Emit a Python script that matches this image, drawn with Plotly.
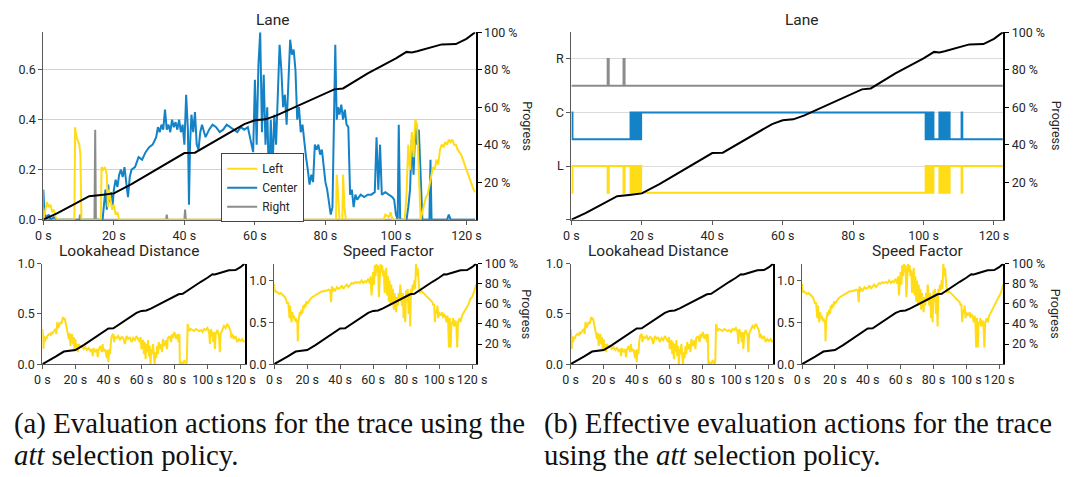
import plotly.graph_objects as go

# ---------------- data ----------------
# progress of the trace (percent) over time (s)
prog_t = [0, 4, 8, 13, 17, 20, 25, 30, 35, 40, 43, 47, 52, 57, 60, 63, 66, 70, 75, 80,
          82.5, 85, 88, 92, 96, 100, 103, 104.5, 106, 110, 113, 117, 120, 122.5]
prog_v = [0, 3.5, 7.5, 12.5, 13.3, 14, 19, 24.5, 30, 35.5, 35.7, 40, 45.5, 51, 53, 53.5,
          55.5, 59, 63, 67.5, 69.5, 70, 73.5, 78, 82, 86, 89.5, 89.2, 89.8, 92, 93.5, 93.7,
          96.5, 100]

# lane evaluation values
left_t = [0, 0.5, 1, 1.5, 2, 2.5, 3, 3.5, 4, 8.8, 9, 9.4, 9.8, 10.2, 10.5, 10.8, 16.3, 16.5,
          17, 17.5, 18, 18.3, 18.6, 19, 19.5, 20, 20.5, 21, 21.5, 83, 83.2, 83.6, 84, 84.8, 85,
          85.4, 85.8, 96.5, 97, 98, 98.5, 99, 102.5, 103, 103.5, 104, 104.5, 105, 105.5, 106,
          106.5, 107, 107.5, 108, 108.5, 109, 109.5, 110, 110.5, 111, 111.5, 112, 112.5, 113,
          113.5, 114, 114.5, 115, 115.5, 116, 116.5, 117, 117.5, 118, 118.5, 119, 119.5, 120,
          120.5, 121, 121.5, 122, 122.5]
left_v = [0, 0.03, 0.07, 0.05, 0.06, 0.03, 0.04, 0.01, 0, 0, 0.37, 0.33, 0.31, 0.3, 0.26, 0,
          0, 0.21, 0.2, 0.21, 0.18, 0.05, 0.12, 0.08, 0.04, 0.06, 0.02, 0.03, 0, 0, 0.18, 0.1,
          0, 0, 0.18, 0.05, 0, 0, 0.02, 0.01, 0.03, 0, 0, 0.1, 0.3, 0.2, 0.35, 0.25, 0.4, 0.38,
          0.2, 0, 0.03, 0.06, 0.09, 0.1, 0.14, 0.18, 0.21, 0.2, 0.24, 0.22, 0.28, 0.3, 0.29,
          0.31, 0.3, 0.32, 0.31, 0.32, 0.3, 0.3, 0.28, 0.27, 0.26, 0.24, 0.22, 0.2, 0.18, 0.16,
          0.14, 0.12, 0.11]

center_t = [0, 0.3, 1, 1.5, 2, 3, 4, 16.8, 17.2, 17.6, 18, 18.4, 18.8, 19.2, 19.6, 20, 20.5,
            21, 21.5, 22, 22.5, 23, 23.5, 24, 24.5, 25, 26, 27, 28, 29, 30, 31, 32, 32.5, 33,
            33.5, 34, 34.5, 35, 35.5, 36, 36.5, 37, 37.5, 38, 38.5, 39, 39.5, 40, 40.5, 41,
            41.3, 41.6, 42, 42.5, 43, 43.5, 44, 44.5, 45, 46, 47, 48, 49, 50, 51, 52, 53, 54,
            55, 56, 57, 58, 59, 59.5, 60, 60.5, 61, 61.5, 62, 62.5, 63, 63.5, 64, 64.5, 65,
            65.5, 66, 66.5, 67, 67.5, 68, 68.5, 69, 69.5, 70, 70.5, 71, 71.5, 72, 72.5, 73,
            73.5, 74, 74.5, 75, 75.5, 76, 76.5, 77, 77.5, 78, 78.5, 79, 79.5, 80, 80.5, 81,
            81.5, 82, 82.5, 82.8, 83.2, 83.6, 84, 84.5, 85, 85.5, 86, 86.5, 87, 87.5, 88, 88.5,
            89, 90, 91, 92, 93, 94, 94.5, 95, 95.5, 96, 97, 98, 99, 99.5, 100, 100.5, 100.8,
            101.2, 103, 103.5, 104, 104.5, 105, 105.5, 106, 106.5, 107, 107.5, 109.5, 109.8,
            110.1, 114.5, 115, 115.5, 122.5]
center_v = [0.12, 0.02, 0.01, 0.02, 0, 0.01, 0, 0, 0.06, 0.12, 0.04, 0.14, 0.07, 0.11, 0.05,
            0.12, 0.16, 0.13, 0.18, 0.2, 0.17, 0.21, 0.15, 0.09, 0.17, 0.2, 0.21, 0.25, 0.24,
            0.27, 0.29, 0.3, 0.33, 0.37, 0.35, 0.38, 0.36, 0.44, 0.36, 0.38, 0.35, 0.4, 0.37,
            0.39, 0.36, 0.4, 0.35, 0.38, 0.3, 0.5, 0.36, 0.06, 0.3, 0.42, 0.35, 0.43, 0.3, 0.28,
            0.35, 0.38, 0.33, 0.36, 0.38, 0.37, 0.35, 0.36, 0.38, 0.37, 0.36, 0.35, 0.37, 0.36,
            0.37, 0.3, 0.27, 0.56, 0.3, 0.62, 0.75, 0.35, 0.58, 0.3, 0.45, 0.12, 0.4, 0.2, 0.42,
            0.3, 0.5, 0.7, 0.6, 0.45, 0.5, 0.38, 0.55, 0.72, 0.66, 0.68, 0.6, 0.4, 0.45, 0.35,
            0.38, 0.3, 0.25, 0.2, 0.14, 0.18, 0.15, 0.3, 0.28, 0.3, 0.26, 0.28, 0.2, 0.15, 0.12,
            0.06, 0.02, 0.05, 0.58, 0.7, 0.4, 0.45, 0.42, 0.46, 0.4, 0.44, 0.38, 0.37, 0.1,
            0.12, 0.05, 0.1, 0.08, 0.1, 0.09, 0.1, 0.1, 0.11, 0.33, 0.12, 0.3, 0.1, 0.11, 0.1,
            0.09, 0.08, 0.02, 0, 0.38, 0, 0, 0.05, 0.12, 0.32, 0.18, 0.38, 0.3, 0.36, 0.15, 0,
            0, 0.24, 0, 0, 0.02, 0, 0]

right_t = [0, 0.3, 0.6, 10.2, 10.4, 10.6, 14.5, 14.7, 14.9, 34.8, 35, 35.2, 40, 40.2, 40.4, 122.5]
right_v = [0, 0.02, 0, 0, 0.02, 0, 0, 0.36, 0, 0, 0.02, 0, 0, 0.04, 0, 0]

# effective lane selection: switch times and the lane chosen from then on
sel_t = [0, 0.3, 10.3, 10.6, 14.8, 15.1, 16.8, 17.1, 17.3, 17.6, 17.8, 18.1, 18.3, 18.6,
         18.8, 19.1, 19.3, 19.6, 19.8, 100.6, 100.8, 101.0, 101.2, 101.4, 101.6, 101.8, 102.0,
         102.2, 102.5, 102.8, 104.5, 104.8, 105.3, 105.5, 105.8, 106.1, 106.6, 106.8, 107.2,
         107.4, 110.8, 111.0, 122.5]
sel_lane = ["C", "L", "R", "L", "R", "L", "C", "L", "C", "L", "C", "L", "C", "L", "C", "L",
            "C", "L", "C", "L", "C", "L", "C", "L", "C", "L", "C", "L", "C", "L", "C", "L",
            "C", "L", "C", "L", "C", "L", "C", "L", "C", "L", "L"]

# lookahead distance
look_t = [0, 0.3, 0.6, 1, 1.5, 2, 2.5, 3, 4, 5, 5.5, 6, 7, 8, 8.5, 9, 9.5, 10, 10.5, 11, 11.5,
          12, 12.5, 13, 13.5, 14, 14.5, 15, 15.5, 16, 16.5, 17, 17.5, 18, 18.5, 19, 19.5, 20,
          20.5, 21, 21.5, 22, 23, 24, 25, 26, 27, 28, 29, 30, 30.5, 31, 32, 33, 33.5, 34, 35,
          36, 36.5, 37, 38, 39, 39.5, 40, 40.5, 41, 41.5, 42, 43, 43.5, 44, 45, 46, 47, 48, 49,
          50, 51, 52, 53, 54, 55, 56, 57, 58, 59, 59.5, 60, 61, 61.5, 62, 62.5, 63, 63.5, 64,
          64.5, 65, 65.5, 66, 66.5, 67, 67.5, 68, 68.5, 69, 69.5, 70, 70.5, 71, 72, 72.5, 73,
          74, 75, 75.5, 76, 77, 78, 78.5, 79, 80, 81, 82, 82.5, 83, 83.3, 84, 85, 86, 87, 87.5,
          88, 88.5, 89, 90, 91, 92, 93, 94, 95, 96, 97, 98, 99, 100, 101, 101.5, 102, 103,
          103.5, 104, 104.5, 105, 106, 107, 107.5, 108, 109, 110, 111, 112, 113, 114, 114.5,
          115, 116, 117, 118, 119, 120, 121, 122, 122.5]
look_v = [0.35, 0.3, 0.15, 0.28, 0.22, 0.27, 0.25, 0.28, 0.3, 0.29, 0.32, 0.3, 0.33, 0.35,
          0.3, 0.42, 0.36, 0.38, 0.4, 0.42, 0.4, 0.45, 0.47, 0.44, 0.46, 0.42, 0.38, 0.36, 0.3,
          0.25, 0.31, 0.18, 0.28, 0.3, 0.2, 0.27, 0.13, 0.25, 0.15, 0.2, 0.12, 0.2, 0.17, 0.18,
          0.15, 0.17, 0.14, 0.16, 0.13, 0.15, 0.08, 0.16, 0.12, 0.15, 0.07, 0.14, 0.18, 0.12,
          0.2, 0.13, 0.15, 0.06, 0.14, 0.02, 0.15, 0.1, 0.22, 0.28, 0.3, 0.22, 0.27, 0.26,
          0.28, 0.24, 0.27, 0.26, 0.2, 0.28, 0.25, 0.27, 0.22, 0.26, 0.24, 0.28, 0.25, 0.22,
          0.27, 0.15, 0.24, 0.1, 0.22, 0.05, 0.2, 0.12, 0.24, 0.08, 0.18, 0, 0.15, 0.1, 0.2,
          0.02, 0, 0.12, 0.06, 0.18, 0.1, 0.22, 0.15, 0.2, 0.12, 0.25, 0.18, 0.24, 0.15, 0.26,
          0.28, 0.22, 0.3, 0.26, 0.32, 0.25, 0.3, 0.22, 0.3, 0, 0.02, 0, 0.04, 0, 0.02, 0.4,
          0.35, 0.33, 0.35, 0.34, 0.33, 0.35, 0.34, 0.33, 0.34, 0.32, 0.35, 0.34, 0.36, 0.32,
          0.2, 0.35, 0.3, 0.22, 0.32, 0.15, 0.3, 0.34, 0.28, 0.12, 0.3, 0.35, 0.38, 0.36, 0.4,
          0.37, 0.33, 0.26, 0.3, 0.25, 0.28, 0.22, 0.25, 0.23, 0.25, 0.22, 0.24]

# speed factor
speed_t = [0, 0.3, 1, 2, 3, 4, 5, 6, 6.5, 7, 7.5, 8, 8.5, 9, 9.3, 9.6, 10, 10.5, 11, 11.5, 12,
           12.5, 13, 13.5, 14, 14.3, 14.6, 15, 15.5, 16, 16.5, 17, 17.5, 18, 18.5, 19, 19.5,
           20, 21, 22, 23, 24, 25, 26, 27, 28, 29, 30, 31, 32, 33, 34, 34.5, 35, 35.5, 36, 37,
           38, 39, 40, 41, 42, 43, 44, 45, 46, 47, 48, 49, 50, 51, 52, 53, 54, 55, 56, 57, 58,
           58.5, 59, 59.5, 60, 60.5, 61, 61.5, 62, 62.5, 63, 63.5, 64, 64.5, 65, 65.5, 66, 66.5,
           67, 67.5, 68, 68.5, 69, 69.5, 70, 70.5, 71, 71.5, 72, 72.5, 73, 73.5, 74, 74.5, 75,
           75.5, 76, 76.5, 77, 77.5, 78, 78.5, 79, 79.5, 80, 80.5, 81, 81.5, 82, 82.5, 83, 83.5,
           84, 84.5, 85, 85.5, 86, 86.5, 87, 87.5, 88, 88.5, 89, 90, 91, 92, 93, 94, 95, 96,
           96.5, 97, 97.5, 98, 98.5, 99, 99.5, 100, 101, 102, 102.5, 103, 104, 104.5, 105,
           105.5, 106, 106.5, 107, 107.5, 108, 108.5, 109, 109.5, 110, 110.5, 111, 111.5, 112,
           112.5, 113, 113.5, 114, 114.5, 115, 116, 117, 118, 119, 120, 121, 122, 122.5]
speed_v = [0.96, 0.86, 0.87, 0.85, 0.84, 0.85, 0.83, 0.82, 0.8, 0.78, 0.75, 0.72, 0.74, 0.65,
           0.55, 0.7, 0.6, 0.5, 0.62, 0.55, 0.58, 0.52, 0.55, 0.5, 0.53, 0.27, 0.5, 0.56, 0.62,
           0.58, 0.65, 0.6, 0.7, 0.66, 0.72, 0.68, 0.75, 0.72, 0.76, 0.78, 0.8, 0.81, 0.83,
           0.84, 0.85, 0.86, 0.87, 0.87, 0.88, 0.88, 0.89, 0.88, 0.74, 0.93, 0.87, 0.9, 0.88,
           0.92, 0.9, 0.91, 0.94, 0.9, 0.93, 0.95, 0.92, 0.95, 0.97, 0.96, 0.98, 0.97, 0.98,
           0.97, 1.0, 0.97, 0.99, 0.98, 1.02, 0.96, 1.05, 0.82, 1.0, 1.1, 0.95, 1.18, 1.05, 1.2,
           1.1, 1.18, 0.8, 1.15, 1.2, 1.1, 1.18, 1.05, 1.12, 0.85, 1.1, 1.15, 0.82, 1.05, 0.75,
           1.0, 0.7, 0.95, 0.72, 0.9, 0.65, 0.85, 0.75, 0.62, 0.8, 0.7, 0.85, 0.75, 0.95, 0.8,
           0.7, 0.85, 0.55, 0.8, 0.5, 0.88, 0.75, 0.9, 0.6, 0.85, 0.45, 0.9, 0.85, 0.95, 0.88,
           1.0, 0.9, 1.2, 1.05, 1.15, 0.95, 0.9, 0.85, 0.88, 0.86, 0.84, 0.82, 0.8, 0.78, 0.76,
           0.74, 0.7, 0.72, 0.5, 0.65, 0.6, 0.7, 0.55, 0.62, 0.58, 0.62, 0.55, 0.6, 0.56, 0.5,
           0.58, 0.52, 0.2, 0.55, 0.2, 0.5, 0.48, 0.55, 0.45, 0.5, 0.52, 0.45, 0.2, 0.5, 0.52,
           0.55, 0.5, 0.56, 0.58, 0.6, 0.62, 0.65, 0.7, 0.72, 0.78, 0.8, 0.85, 0.92, 0.95]

x_ticks = [0, 20, 40, 60, 80, 100, 120]
pct_ticks = [20, 40, 60, 80, 100]
lane_levels = {"L": 1, "C": 2, "R": 3}

# ---------------- styling ----------------
W, H = 1078, 477
T_MAX = 122.6
YELLOW = "#FFDC16"
BLUE = "#1482C6"
GRAY = "#8C8C8C"
TXT = "#262626"
AX = "#5a5a5a"
FONT = "Roboto"
TICK_SIZE = 12.5


def px(x):
    return x / W


def py(y):
    return 1 - y / H


fig = go.Figure()
layout = {}


def setup_panel(i, xpx, ypx, left_axis, right_labels):
    xa = "xaxis" if i == 1 else f"xaxis{i}"
    xref = "x" if i == 1 else f"x{i}"
    yl, yr = 2 * i - 1, 2 * i
    yl_key = "yaxis" if yl == 1 else f"yaxis{yl}"
    yl_ref = "y" if yl == 1 else f"y{yl}"
    ydom = [py(ypx[1]), py(ypx[0])]
    layout[xa] = dict(domain=[px(xpx[0]), px(xpx[1])], anchor=yl_ref, range=[0, T_MAX],
                      tickmode="array", tickvals=x_ticks,
                      ticktext=[f"{v} s" for v in x_ticks],
                      showline=True, linecolor=AX, linewidth=1, ticks="outside",
                      ticklen=4, tickcolor=AX, showgrid=False, zeroline=False,
                      tickfont=dict(family=FONT, size=TICK_SIZE, color=TXT))
    base = dict(domain=ydom, anchor=xref, showline=True, linecolor=AX, linewidth=1.2,
                ticks="outside", ticklen=4, tickcolor=AX, zeroline=False,
                tickfont=dict(family=FONT, size=TICK_SIZE, color=TXT))
    base.update(left_axis)
    layout[yl_key] = base
    layout[f"yaxis{yr}"] = dict(domain=ydom, anchor=xref, overlaying=yl_ref, side="right",
                                range=[0, 100], showline=True, linecolor="black",
                                linewidth=2, showgrid=False, zeroline=False,
                                tickmode="array",
                                tickvals=pct_ticks if right_labels else [],
                                ticktext=[f"{v} %" for v in pct_ticks] if right_labels else [],
                                ticks="outside" if right_labels else "",
                                ticklen=4, tickcolor="black",
                                showticklabels=right_labels,
                                tickfont=dict(family=FONT, size=TICK_SIZE, color=TXT))
    return xref, yl_ref, f"y{yr}"


def add_progress(xref, yref):
    fig.add_trace(go.Scatter(x=prog_t, y=prog_v, mode="lines", xaxis=xref, yaxis=yref,
                             line=dict(color="black", width=2), showlegend=False,
                             hoverinfo="skip"))


def add_series(t, v, color, xref, yref, name=None, width=2, shape="linear"):
    fig.add_trace(go.Scatter(x=t, y=v, mode="lines", xaxis=xref, yaxis=yref, name=name,
                             line=dict(color=color, width=width, shape=shape),
                             showlegend=name is not None))


lane_a_axis = dict(range=[0, 0.75], tickvals=[0, 0.2, 0.4, 0.6], tickformat=".1f",
                   showgrid=True, gridcolor="#d2d2d2", gridwidth=1)
look_axis = dict(range=[0, 1], tickvals=[0, 0.5, 1], tickformat=".1f", showgrid=False)
speed_axis = dict(range=[0, 1.2], tickvals=[0, 0.5, 1], tickformat=".1f", showgrid=False)
lane_b_axis = dict(range=[0, 3.5], tickmode="array", tickvals=[0, 1, 2, 3],
                   ticktext=["", "L", "C", "R"],
                   showgrid=True, gridcolor="#dcdcdc", gridwidth=1)

# (a) lane evaluation values
xr, yl, yr = setup_panel(1, (36, 476), (25, 218.5), lane_a_axis, True)
add_series(right_t, right_v, GRAY, xr, yl, "Right")
add_series(center_t, center_v, BLUE, xr, yl, "Center")
add_series(left_t, left_v, YELLOW, xr, yl, "Left")
add_progress(xr, yr)

# (a) lookahead distance
xr, yl, yr = setup_panel(2, (35, 241), (264, 367.7), look_axis, False)
add_series(look_t, look_v, YELLOW, xr, yl)
add_progress(xr, yr)

# (a) speed factor
xr, yl, yr = setup_panel(3, (271, 476.7), (264, 367.7), speed_axis, True)
add_series(speed_t, speed_v, YELLOW, xr, yl)
add_progress(xr, yr)

# (b) effective lane selection
xr, yl, yr = setup_panel(4, (573.5, 1013), (25, 218.5), lane_b_axis, True)
for lane, color in (("R", GRAY), ("C", BLUE), ("L", YELLOW)):
    lvl = lane_levels[lane]
    ys = [lvl if s == lane else lvl - 0.5 for s in sel_lane]
    add_series(sel_t, ys, color, xr, yl, width=2, shape="hv")
add_progress(xr, yr)

# (b) lookahead distance
xr, yl, yr = setup_panel(5, (572.7, 779), (264, 367.7), look_axis, False)
add_series(look_t, look_v, YELLOW, xr, yl)
add_progress(xr, yr)

# (b) speed factor
xr, yl, yr = setup_panel(6, (808.3, 1013.3), (264, 367.7), speed_axis, True)
add_series(speed_t, speed_v, YELLOW, xr, yl)
add_progress(xr, yr)

# ---------------- text ----------------
ann = []


def text(x, y, s, size=15.5, angle=0, family=FONT, color=TXT, xanchor="center"):
    ann.append(dict(x=px(x), y=py(y), xref="paper", yref="paper", text=s, showarrow=False,
                    textangle=angle, xanchor=xanchor, yanchor="middle",
                    font=dict(family=family, size=size, color=color)))


text(270, 12, "Lane")
text(123, 250.5, "Lookahead Distance")
text(387.5, 250.5, "Speed Factor")
text(808, 12, "Lane")
text(661.7, 250.5, "Lookahead Distance")
text(926, 250.5, "Speed Factor")
for xp in (528, 1067):
    text(xp, 121.75, "Progress", size=12.5, angle=90)
    text(xp, 316, "Progress", size=12.5, angle=90)

SERIF = "Liberation Serif"
CAP = 28.8
text(4, 428.5, "(a) Evaluation actions for the trace using the", size=CAP, family=SERIF,
     color="#111", xanchor="left")
text(4, 461.5, "<i>att</i> selection policy.", size=CAP, family=SERIF, color="#111",
     xanchor="left")
text(544, 428.5, "(b) Effective evaluation actions for the trace", size=CAP, family=SERIF,
     color="#111", xanchor="left")
text(544, 461.5, "using the <i>att</i> selection policy.", size=CAP, family=SERIF,
     color="#111", xanchor="left")

fig.update_layout(
    width=W, height=H, autosize=False,
    margin=dict(l=0, r=0, t=0, b=0),
    paper_bgcolor="white", plot_bgcolor="white",
    annotations=ann,
    legend=dict(x=px(217), y=py(150), xanchor="left", yanchor="top",
                bordercolor="#444", borderwidth=1, bgcolor="white",
                font=dict(family=FONT, size=12, color=TXT), itemwidth=30,
                traceorder="reversed", tracegroupgap=0),
    **layout,
)

fig.write_html("out.html")
